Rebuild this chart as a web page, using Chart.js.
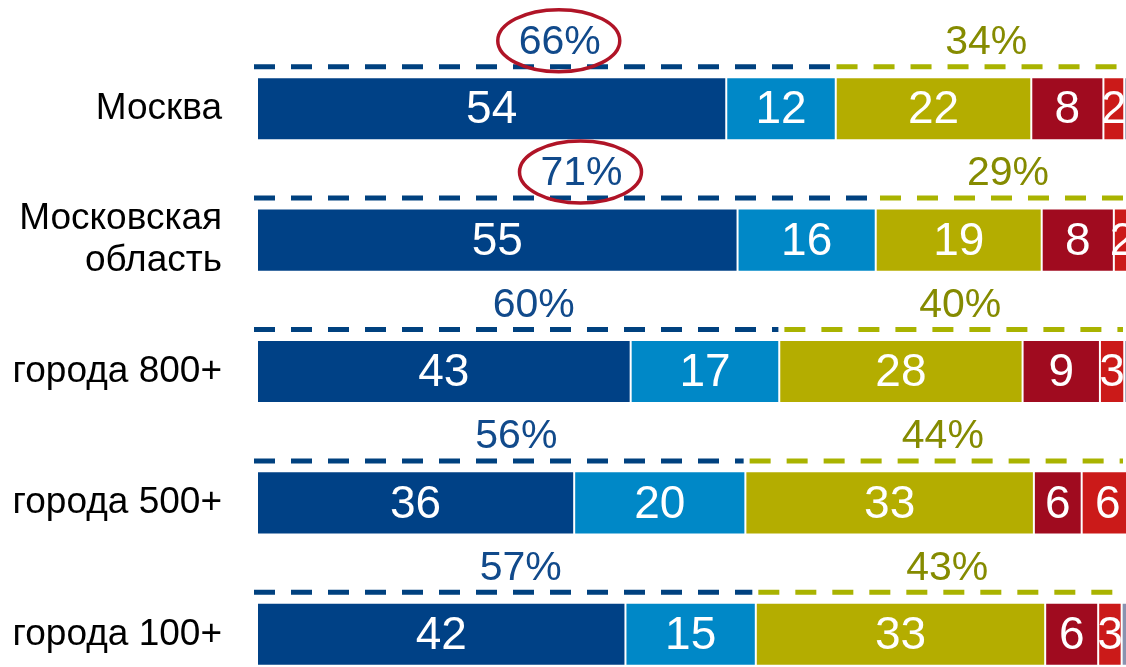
<!DOCTYPE html>
<html>
<head>
<meta charset="utf-8">
<script src="https://cdn.jsdelivr.net/npm/chart.js@4.4.1/dist/chart.umd.min.js"></script>
<style>
  html, body { margin: 0; padding: 0; background: #fff; overflow: hidden; }
  #wrap { position: relative; width: 1126px; height: 700px; }
  canvas { display: block; }
</style>
</head>
<body>
<div id="wrap"><canvas id="c" width="1126" height="700"></canvas></div>
<script>
// ---- data ----
const categories = [['Москва'], ['Московская', 'область'], ['города 800+'], ['города 500+'], ['города 100+']];

// segment shares
const darkBlue  = [54.0, 55.3, 43.0, 36.5, 42.4];
const lightBlue = [12.6, 15.9, 17.1, 19.7, 15.0];
const olive     = [22.5, 19.1, 28.0, 33.2, 33.3];
const darkRed   = [8.3, 8.3, 8.9, 5.5, 6.1];
const red       = [2.4, 2.0, 2.8, 6.0, 2.7];
const grey      = [1, 1, 1, 1, 1];

// numbers printed on segments
const darkBlueLabels  = ['54', '55', '43', '36', '42'];
const lightBlueLabels = ['12', '16', '17', '20', '15'];
const oliveLabels     = ['22', '19', '28', '33', '33'];
const darkRedLabels   = ['8', '8', '9', '6', '6'];
const redLabels       = ['2', '2', '3', '6', '3'];

// group totals above bars
const shareBlue  = [66, 71, 60, 56, 57];
const shareOlive = [34, 29, 40, 44, 43];
const circled    = [true, true, false, false, false];

const FONT = '"Liberation Sans", Arial, sans-serif';
const C = {
  darkBlue: '#004186', lightBlue: '#0088c7', olive: '#b4ad00',
  darkRed: '#a00b1f', red: '#cb1a19', grey: '#8a93b0',
  blueText: '#114a8b', oliveText: '#858b00',
  blueDash: '#00417f', oliveDash: '#a9b300', ring: '#b01427'
};

const overlay = {
  id: 'overlay',
  afterDatasetsDraw(chart) {
    const { ctx, scales: { x, y } } = chart;
    ctx.save();
    // segment numbers
    ctx.fillStyle = '#ffffff';
    ctx.font = '46px ' + FONT;
    ctx.textAlign = 'center';
    ctx.textBaseline = 'middle';
    chart.data.datasets.forEach((ds, di) => {
      if (!ds.shown) return;
      const meta = chart.getDatasetMeta(di);
      meta.data.forEach((bar, i) => {
        const cx = (bar.x + bar.base) / 2;
        ctx.fillText(ds.shown[i], cx, bar.y + 2);
      });
    });
    // dashed group lines, percentages, rings
    ctx.lineWidth = 5;
    ctx.setLineDash([21, 16]);
    const x0 = x.getPixelForValue(0);
    const x100 = x.getPixelForValue(100);
    categories.forEach((c, i) => {
      const yc = y.getPixelForValue(i);
      const xs = x.getPixelForValue(shareBlue[i]);
      const yd = yc - 42;
      ctx.strokeStyle = C.blueDash;
      ctx.beginPath(); ctx.moveTo(x0 - 3, yd); ctx.lineTo(xs, yd); ctx.stroke();
      ctx.strokeStyle = C.oliveDash;
      ctx.beginPath(); ctx.moveTo(xs + 6, yd); ctx.lineTo(x100 - 3, yd); ctx.stroke();

      const yl = yc - 66;
      ctx.font = '41px ' + FONT;
      const bx = (x0 + xs) / 2 + 16;
      const ox = (xs + x100) / 2 + 8;
      ctx.fillStyle = C.blueText;
      ctx.fillText(shareBlue[i] + '%', bx, yl);
      ctx.fillStyle = C.oliveText;
      ctx.fillText(shareOlive[i] + '%', ox, yl);
      if (circled[i]) {
        ctx.save();
        ctx.setLineDash([]);
        ctx.lineWidth = 3.5;
        ctx.strokeStyle = C.ring;
        ctx.beginPath();
        ctx.ellipse(bx - 1, yl - 2, 61, 31, 0, 0, Math.PI * 2);
        ctx.stroke();
        ctx.restore();
      }
    });
    ctx.restore();
  }
};

function ds(label, data, color, shown) {
  return {
    label, data, backgroundColor: color, shown,
    borderColor: 'rgba(255,255,255,0.35)', borderWidth: 1, borderSkipped: false,
    barPercentage: 0.48, categoryPercentage: 1
  };
}

new Chart(document.getElementById('c'), {
  type: 'bar',
  data: {
    labels: categories,
    datasets: [
      ds('dark blue', darkBlue, C.darkBlue, darkBlueLabels),
      ds('light blue', lightBlue, C.lightBlue, lightBlueLabels),
      ds('olive', olive, C.olive, oliveLabels),
      ds('dark red', darkRed, C.darkRed, darkRedLabels),
      ds('red', red, C.red, redLabels),
      ds('grey', grey, C.grey, null)
    ]
  },
  options: {
    indexAxis: 'y',
    responsive: false,
    animation: false,
    devicePixelRatio: 1,
    layout: { padding: { top: 43, left: 0, right: 0, bottom: 0 } },
    plugins: { legend: { display: false }, tooltip: { enabled: false } },
    scales: {
      x: { stacked: true, min: 0, max: 100, display: false },
      y: {
        stacked: true,
        grid: { display: false, drawTicks: false },
        border: { display: false },
        ticks: {
          color: '#000000', padding: 35,
          font: { family: FONT, size: 37, lineHeight: 1.14 }
        },
        afterFit(s) { s.width = 257; s.paddingTop = 0; s.paddingBottom = 0; }
      }
    }
  },
  plugins: [overlay]
});
</script>
</body>
</html>
